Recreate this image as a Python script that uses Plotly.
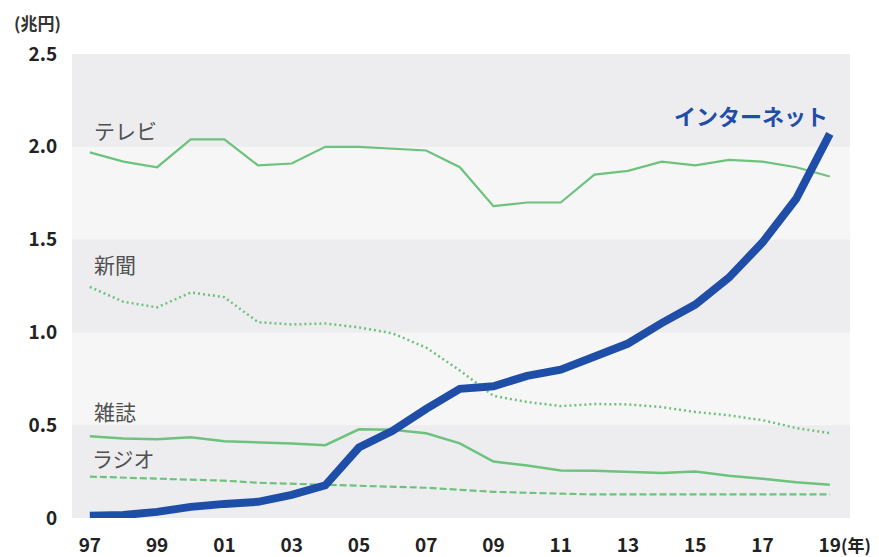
import plotly.graph_objects as go

years = list(range(1997, 2020))
tick_years = list(range(1997, 2020, 2))
tick_labels = ["97", "99", "01", "03", "05", "07", "09", "11", "13", "15", "17", "19"]

tv = [1.97, 1.92, 1.89, 2.04, 2.04, 1.90, 1.91, 2.00, 2.00, 1.99, 1.98, 1.89,
      1.68, 1.70, 1.70, 1.85, 1.87, 1.92, 1.90, 1.93, 1.92, 1.89, 1.84]
newspaper = [1.245, 1.165, 1.135, 1.215, 1.19, 1.055, 1.043, 1.048, 1.027, 0.995, 0.918, 0.795,
             0.658, 0.625, 0.603, 0.614, 0.612, 0.598, 0.571, 0.553, 0.527, 0.485, 0.457]
magazine = [0.440, 0.429, 0.424, 0.435, 0.413, 0.408, 0.402, 0.392, 0.478, 0.476, 0.457, 0.402,
            0.304, 0.283, 0.256, 0.255, 0.250, 0.243, 0.250, 0.228, 0.212, 0.192, 0.179]
radio = [0.223, 0.217, 0.212, 0.207, 0.201, 0.190, 0.185, 0.181, 0.174, 0.170, 0.163, 0.152,
         0.141, 0.136, 0.130, 0.127, 0.127, 0.127, 0.127, 0.127, 0.127, 0.127, 0.127]
internet = [0.012, 0.016, 0.033, 0.060, 0.076, 0.087, 0.125, 0.176, 0.380, 0.470, 0.588, 0.696,
            0.710, 0.766, 0.799, 0.868, 0.940, 1.050, 1.150, 1.295, 1.485, 1.720, 2.070]

y_ticks = [0, 0.5, 1.0, 1.5, 2.0, 2.5]
y_labels = ["0", "0.5", "1.0", "1.5", "2.0", "2.5"]

GREEN = "#6dc27d"
BLUE = "#1f4ea8"
FONT = "Noto Sans CJK JP"

fig = go.Figure()

fig.add_trace(go.Scatter(x=years, y=tv, mode="lines", line=dict(color=GREEN, width=2.2)))
fig.add_trace(go.Scatter(x=years, y=newspaper, mode="lines",
                         line=dict(color=GREEN, width=2.5, dash="2px,3px")))
fig.add_trace(go.Scatter(x=years, y=magazine, mode="lines", line=dict(color=GREEN, width=2.5)))
fig.add_trace(go.Scatter(x=years, y=radio, mode="lines",
                         line=dict(color=GREEN, width=2.2, dash="7px,3px")))
fig.add_trace(go.Scatter(x=years, y=internet, mode="lines", line=dict(color=BLUE, width=8)))

# alternating background bands
for lo in [0, 1.0, 2.0]:
    fig.add_shape(type="rect", xref="paper", yref="y", x0=0, x1=1, y0=lo, y1=lo + 0.5,
                  fillcolor="#ededf0", line=dict(width=0), layer="below")

label_font = dict(family=FONT, size=21, color="#505050")
for txt, xv, yv in [("テレビ", 1997.05, 2.09), ("新聞", 1997.05, 1.37),
                    ("雑誌", 1997.05, 0.577), ("ラジオ", 1997.0, 0.323)]:
    fig.add_annotation(x=xv, y=yv, text=txt, showarrow=False, xanchor="left",
                       yanchor="middle", font=label_font)
fig.add_annotation(x=2019.0, y=2.17, text="<b>インターネット</b>", showarrow=False, xanchor="right",
                   yanchor="middle", font=dict(family=FONT, size=22, color=BLUE))
fig.add_annotation(xref="paper", yref="paper", x=-0.077, y=1.067, text="<b>(兆円)</b>",
                   showarrow=False, xanchor="left", yanchor="middle",
                   font=dict(family=FONT, size=17, color="#333333"))
fig.add_annotation(xref="paper", yref="paper", x=1.03, y=-0.058, text="<b>(年)</b>",
                   showarrow=False, xanchor="right", yanchor="middle",
                   font=dict(family=FONT, size=17, color="#222222"))

fig.update_layout(
    width=871, height=549,
    margin=dict(l=64, r=29, t=46, b=39),
    paper_bgcolor="white",
    plot_bgcolor="#f6f6f6",
    showlegend=False,
    xaxis=dict(range=[1996.47, 2019.6], tickvals=tick_years, ticktext=tick_labels,
               showgrid=False, zeroline=False, showline=False, automargin=False,
               ticks="outside", ticklen=10, tickcolor="rgba(0,0,0,0)",
               tickfont=dict(family=FONT, size=19, color="#222222", weight="bold")),
    yaxis=dict(range=[0, 2.5], tickvals=y_ticks, ticktext=y_labels,
               showgrid=False, zeroline=False, showline=False, automargin=False,
               ticks="outside", ticklen=10, tickcolor="rgba(0,0,0,0)",
               tickfont=dict(family=FONT, size=19, color="#222222", weight="bold")),
)

fig.write_html("out.html")
